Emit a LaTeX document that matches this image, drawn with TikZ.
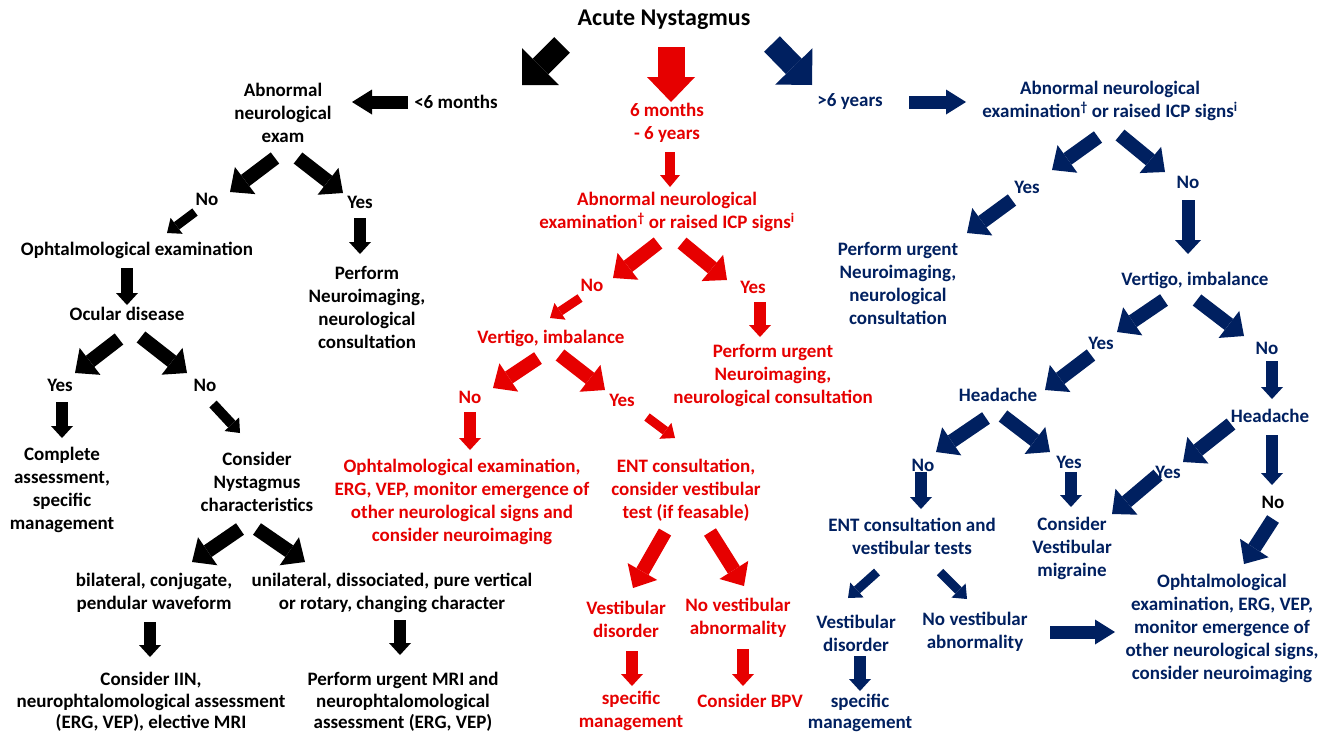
\documentclass[tikz,border=0pt]{standalone}
\usepackage{fontspec}
\setmainfont{Carlito}
\usetikzlibrary{arrows.meta}
\definecolor{myred}{RGB}{230,0,0}
\definecolor{navy}{RGB}{0,32,96}
\newcommand\arr[4]{\coordinate (#1s) at #3; \coordinate (#1e) at #4; \draw[#2] (#1s) -- (#1e);}
\begin{document}
\begin{tikzpicture}[x=1pt,y=-1pt,
  txt/.style={font=\bfseries\fontsize{19}{23}\selectfont, align=center, inner sep=0pt},
  kb/.style={txt, text=black},
  kr/.style={txt, text=myred},
  kn/.style={txt, text=navy},
  tight/.style={font=\bfseries\fontsize{19}{21.5}\selectfont},
  bigA/.style={line width=22pt, -{Triangle[width=52pt,length=26pt,line width=0pt]}},
  bigD/.style={line width=27pt, -{Triangle[width=48pt,length=25pt,line width=0pt]}},
  horz/.style={line width=13pt, -{Triangle[width=25pt,length=20pt,line width=0pt]}},
  med/.style={line width=14pt, -{Triangle[width=34pt,length=19pt,line width=0pt]}},
  sm/.style={line width=9pt, -{Triangle[width=20pt,length=12pt,line width=0pt]}},
  dn/.style={line width=12pt, -{Triangle[width=22pt,length=12pt,line width=0pt]}},
  dnL/.style={line width=13pt, -{Triangle[width=26pt,length=14pt,line width=0pt]}},
  rdn/.style={line width=10pt, -{Triangle[width=20pt,length=12pt,line width=0pt]}},
]
\useasboundingbox (0,0) rectangle (1334,732);
\fill[white] (0,0) rectangle (1334,732);

% ---------- texts ----------
\node[kb, font=\bfseries\fontsize{24}{28}\selectfont] (title) at (664,20) {Acute Nystagmus};

% black branch
\node[kb] (abn1) at (283,113) {Abnormal\\neurological\\exam};
\node[kb] (lt6) at (456,102) {<6 months};
\node[kb] (no1) at (207,199) {No};
\node[kb] (yes1) at (360,202) {Yes};
\node[kb] (oph1) at (137,250) {Ophtalmological examination};
\node[kb] (perf1) at (367,307) {Perform\\Neuroimaging,\\neurological\\consultation};
\node[kb] (ocu) at (127,314) {Ocular disease};
\node[kb] (yes2) at (60,385) {Yes};
\node[kb] (no2) at (205,385) {No};
\node[kb] (comp) at (62,490) {Complete\\assessment,\\specific\\management};
\node[kb] (cons) at (257,482) {Consider\\Nystagmus\\characteristics};
\node[kb] (bil) at (154,593) {bilateral, conjugate,\\pendular waveform};
\node[kb] (uni) at (392,593) {unilateral, dissociated, pure vertical\\or rotary, changing character};
\node[kb, tight] (iin) at (151,702) {Consider IIN,\\neurophtalomological assessment\\(ERG, VEP), elective MRI};
\node[kb, tight] (mri) at (403,702) {Perform urgent MRI and\\neurophtalomological\\assessment (ERG, VEP)};

% red branch
\node[kr] (r6m) at (667,123) {6 months\\- 6 years};
\node[kr] (rabn) at (667,212) {Abnormal neurological\\examination\textsuperscript{\textdagger} or raised ICP signs\textsuperscript{i}};
\node[kr] (rno1) at (592,285) {No};
\node[kr] (ryes1) at (753,287) {Yes};
\node[kr] (rvert) at (551,338) {Vertigo, imbalance};
\node[kr] (rperf) at (773,375) {Perform urgent\\Neuroimaging,\\neurological consultation};
\node[kr] (rno2) at (470,397) {No};
\node[kr] (ryes2) at (622,400) {Yes};
\node[kr] (roph) at (462,502) {Ophtalmological examination,\\ERG, VEP, monitor emergence of\\other neurological signs and\\consider neuroimaging};
\node[kr] (rent) at (686,490) {ENT consultation,\\consider vestibular\\test (if feasable)};
\node[kr] (rvd) at (626,619) {Vestibular\\disorder};
\node[kr] (rnva) at (738,618) {No vestibular\\abnormality};
\node[kr] (rspec) at (631,711) {specific\\management};
\node[kr] (rbpv) at (750,701) {Consider BPV};

% navy branch
\node[kn] (ngt6) at (850,102) {>6 years};
\node[kn] (nabn) at (1110,101) {Abnormal neurological\\examination\textsuperscript{\textdagger} or raised ICP signs\textsuperscript{i}};
\node[kn] (nyes1) at (1027,187) {Yes};
\node[kn] (nno1) at (1188,182) {No};
\node[kn] (nperf) at (898,283) {Perform urgent\\Neuroimaging,\\neurological\\consultation};
\node[kn] (nvert) at (1195,280) {Vertigo, imbalance};
\node[kn] (nyes2) at (1101,343) {Yes};
\node[kn] (nno2) at (1267,348) {No};
\node[kn] (nhead1) at (998,395) {Headache};
\node[kn] (nhead2) at (1270,416) {Headache};
\node[kn] (nno3) at (923,465) {No};
\node[kn] (nyes3) at (1069,462) {Yes};
\node[kn] (nyes4) at (1168,472) {Yes};
\node[kb] (nno4) at (1273,502) {No};
\node[kn] (nent) at (912,536) {ENT consultation and\\vestibular tests};
\node[kn] (ncons) at (1072,548) {Consider\\Vestibular\\migraine};
\node[kn] (nvd) at (856,633) {Vestibular\\disorder};
\node[kn] (nnva) at (975,632) {No vestibular\\abnormality};
\node[kn] (noph) at (1222,628) {Ophtalmological\\examination, ERG, VEP,\\monitor emergence of\\other neurological signs,\\consider neuroimaging};
\node[kn, tight] (nspec) at (860,713) {specific\\management};

% ---------- arrows ----------
% top
\arr{t1}{bigA, black}{(562,45)}{(522,85)}
\arr{t2}{bigD, myred}{(671,47)}{(671,102)}
\arr{t3}{bigA, navy}{(772,44)}{(812,85)}
\arr{h1}{horz, black}{(408,102)}{(352,102)}
\arr{h2}{horz, navy}{(909,102)}{(966,102)}

% black
\arr{b1}{med, black}{(275,158)}{(230,192)}
\arr{b2}{med, black}{(298,158)}{(343,193)}
\arr{b3}{sm, black}{(195,212)}{(167,233)}
\arr{b4}{dn, black}{(360,218)}{(360,254)}
\arr{b5}{dn, black}{(127,268)}{(127,305)}
\arr{b6}{med, black}{(119,339)}{(75,373)}
\arr{b7}{med, black}{(141,337)}{(187,373)}
\arr{b8}{dn, black}{(62,402)}{(62,438)}
\arr{b9}{sm, black, line width=10pt}{(213,404)}{(240,433)}
\arr{b10}{med, black}{(240,529)}{(192,562)}
\arr{b11}{med, black}{(257,529)}{(305,562)}
\arr{b12}{dn, black}{(150,622)}{(150,657)}
\arr{b13}{dn, black}{(400,620)}{(400,655)}

% red
\arr{r1}{rdn, myred}{(670,152)}{(670,187)}
\arr{r2}{med, myred}{(658,243)}{(613,278)}
\arr{r3}{med, myred}{(682,243)}{(727,280)}
\arr{r4}{sm, myred}{(580,298)}{(550,318)}
\arr{r5}{dn, myred}{(760,302)}{(760,337)}
\arr{r6}{med, myred}{(538,358)}{(493,388)}
\arr{r7}{med, myred}{(560,355)}{(605,390)}
\arr{r8}{dn, myred}{(470,412)}{(470,450)}
\arr{r9}{sm, myred}{(647,417)}{(675,438)}
\arr{r10}{med, myred}{(665,532)}{(633,588)}
\arr{r11}{med, myred}{(710,532)}{(744,586)}
\arr{r12}{dn, myred}{(632,651)}{(632,686)}
\arr{r13}{dn, myred}{(743,649)}{(743,686)}

% navy
\arr{n1}{med, navy}{(1098,137)}{(1052,170)}
\arr{n2}{med, navy}{(1120,135)}{(1165,172)}
\arr{n3}{med, navy}{(1012,200)}{(967,233)}
\arr{n4}{dnL, navy}{(1188,200)}{(1188,254)}
\arr{n5}{med, navy}{(1164,300)}{(1117,332)}
\arr{n6}{med, navy}{(1197,300)}{(1244,336)}
\arr{n7}{med, navy}{(1091,355)}{(1045,390)}
\arr{n8}{dn, navy}{(1272,361)}{(1272,399)}
\arr{n9}{med, navy}{(986,418)}{(936,452)}
\arr{n10}{med, navy}{(1003,416)}{(1050,452)}
\arr{n11}{med, navy}{(1231,424)}{(1183,462)}
\arr{n12}{dn, navy}{(1272,435)}{(1272,485)}
\arr{n13}{dn, navy}{(921,472)}{(921,509)}
\arr{n14}{dn, navy}{(1071,472)}{(1071,507)}
\arr{n15}{med, navy}{(1158,475)}{(1112,514)}
\arr{n16}{med, navy}{(1273,519)}{(1244,564)}
\arr{n17}{sm, navy}{(877,572)}{(848,598)}
\arr{n18}{sm, navy}{(940,572)}{(967,599)}
\arr{n19}{horz, navy}{(1050,632)}{(1115,632)}
\arr{n20}{dn, navy}{(860,656)}{(860,691)}
\end{tikzpicture}
\end{document}
